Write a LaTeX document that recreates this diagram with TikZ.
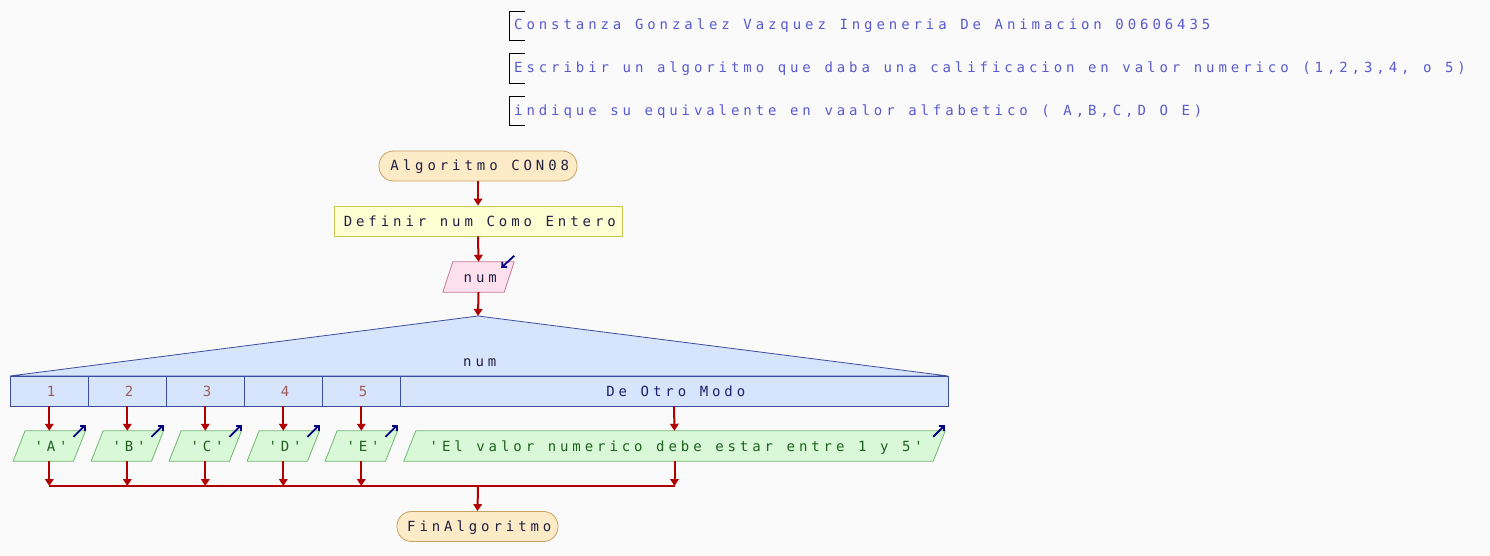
\documentclass[tikz,border=0pt]{standalone}
\usepackage{fontspec}
\setmonofont{DejaVu Sans Mono}[LetterSpace=28,WordSpace=1.1]
\usetikzlibrary{arrows.meta}
\definecolor{bgc}{RGB}{250,250,250}
\definecolor{termfill}{RGB}{253,235,200}
\definecolor{termdraw}{RGB}{200,160,96}
\definecolor{procfill}{RGB}{255,255,212}
\definecolor{procdraw}{RGB}{200,200,80}
\definecolor{infill}{RGB}{253,224,238}
\definecolor{indraw}{RGB}{200,120,152}
\definecolor{swfill}{RGB}{214,228,252}
\definecolor{swdraw}{RGB}{60,76,160}
\definecolor{outfill}{RGB}{216,248,216}
\definecolor{outdraw}{RGB}{112,184,112}
\definecolor{flowc}{RGB}{176,0,0}
\definecolor{navyc}{RGB}{0,0,128}
\definecolor{txtc}{RGB}{32,32,64}
\definecolor{casec}{RGB}{160,90,90}
\definecolor{outtxt}{RGB}{32,96,32}
\definecolor{comc}{RGB}{90,90,208}
\definecolor{othc}{RGB}{30,30,110}
\pgfdeclarelayer{bglayer}
\pgfdeclarelayer{shapes}
\pgfsetlayers{bglayer,shapes,main}
\begin{document}
\begin{tikzpicture}[x=1pt,y=-1pt,
  every node/.style={font=\ttfamily\fontsize{14}{16}\selectfont, inner sep=0pt, text height=12pt, text depth=2pt, text=txtc, execute at begin node={\hspace*{3.6pt}}},
  term/.style={draw=termdraw, fill=termfill, rounded corners=14.5pt, minimum height=30pt, line width=0.8pt},
  proc/.style={draw=procdraw, fill=procfill, minimum height=30pt, line width=0.8pt},
  slot/.style={minimum height=30pt},
  casecell/.style={draw=swdraw, fill=swfill, minimum height=30pt, line width=0.8pt},
  flow/.style={draw=flowc, line width=2pt, -{Triangle[length=7pt,width=8.5pt]}},
  redline/.style={draw=flowc, line width=2pt},
  ioarrow/.style={draw=navyc, line width=1.8pt, -{Straight Barb[length=3.5pt,width=7pt]}},
  bracket/.style={draw=black, line width=0.8pt},
  comment/.style={anchor=west, text=comc}
]
\useasboundingbox (0,0) rectangle (1490,556);
\begin{pgfonlayer}{bglayer}
\fill[bgc] (0,0) rectangle (1490,556);
\end{pgfonlayer}

% comments
\draw[bracket] (525,11) -- (509,11) -- (509,40) -- (525,40);
\node[comment] (cm1) at (510.4,25) {Constanza Gonzalez Vazquez Ingeneria De Animacion 00606435};
\draw[bracket] (525,53) -- (509,53) -- (509,83) -- (525,83);
\node[comment] (cm2) at (510.4,68) {Escribir un algoritmo que daba una calificacion en valor numerico (1,2,3,4, o 5)};
\draw[bracket] (525,96) -- (509,96) -- (509,125) -- (525,125);
\node[comment] (cm3) at (510.4,111) {indique su equivalente en vaalor alfabetico ( A,B,C,D O E)};

% start
\node[term, minimum width=198pt] (start) at (478,166) {Algoritmo CON08};
\node[proc, minimum width=288pt] (def) at (478,221) {Definir num Como Entero};
\node[slot, minimum width=71pt] (num) at (478.5,277) {num};
\begin{pgfonlayer}{shapes}
\draw[fill=infill, draw=indraw, line width=0.8pt] (num.south west) -- ([xshift=10pt]num.north west) -- (num.north east) -- ([xshift=-10pt]num.south east) -- cycle;
\end{pgfonlayer}
\draw[ioarrow] ([yshift=6pt]num.north east) -- ([xshift=-13pt,yshift=-6pt]num.north east);

% switch
\coordinate (apex) at (478,316);
\draw[fill=swfill, draw=swdraw, line width=0.8pt] (apex) -- (10,376) -- (948,376) -- cycle;
\node (swlabel) at (478,361) {num};
\node[casecell, minimum width=78pt, text=casec] (c1) at (49.3,391) {1};
\node[casecell, minimum width=78pt, text=casec] (c2) at (127.3,391) {2};
\node[casecell, minimum width=78pt, text=casec] (c3) at (205.3,391) {3};
\node[casecell, minimum width=78pt, text=casec] (c4) at (283.3,391) {4};
\node[casecell, minimum width=78pt, text=casec] (c5) at (361.3,391) {5};
\node[casecell, minimum width=548pt, text=othc] (c6) at (674,391) {De Otro Modo};

% outputs
\node[slot, minimum width=72pt, text=outtxt] (o1) at (49.3,446) {'A'};
\node[slot, minimum width=72pt, text=outtxt] (o2) at (127.3,446) {'B'};
\node[slot, minimum width=72pt, text=outtxt] (o3) at (205.3,446) {'C'};
\node[slot, minimum width=72pt, text=outtxt] (o4) at (283.3,446) {'D'};
\node[slot, minimum width=72pt, text=outtxt] (o5) at (361.3,446) {'E'};
\node[slot, minimum width=541pt, text=outtxt] (o6) at (674.5,446) {'El valor numerico debe estar entre 1 y 5'};
\begin{pgfonlayer}{shapes}
\foreach \n in {o1,o2,o3,o4,o5,o6}{
  \draw[fill=outfill, draw=outdraw, line width=0.8pt] (\n.south west) -- ([xshift=12pt]\n.north west) -- (\n.north east) -- ([xshift=-12pt]\n.south east) -- cycle;
}
\end{pgfonlayer}
\foreach \n in {o1,o2,o3,o4,o5,o6}{
  \draw[ioarrow] ([xshift=-12pt,yshift=-6pt]\n.north east) -- ([yshift=6pt]\n.north east);
}

% end
\node[term, minimum width=161pt] (fin) at (477.5,526.5) {FinAlgoritmo};
\coordinate (jn) at (478,486);

% connectors
\draw[flow] (start.south) -- (def.north);
\draw[flow] (def.south) -- (num.north);
\draw[flow] (num.south) -- (apex);
\foreach \i in {1,...,6}{
  \draw[flow] (c\i.south) -- (o\i.north);
  \draw[flow] (o\i.south) -- (o\i.south |- jn);
}
\draw[redline] (o1.south |- jn) -- (o6.south |- jn);
\draw[flow] (jn) -- (fin.north);
\end{tikzpicture}
\end{document}
